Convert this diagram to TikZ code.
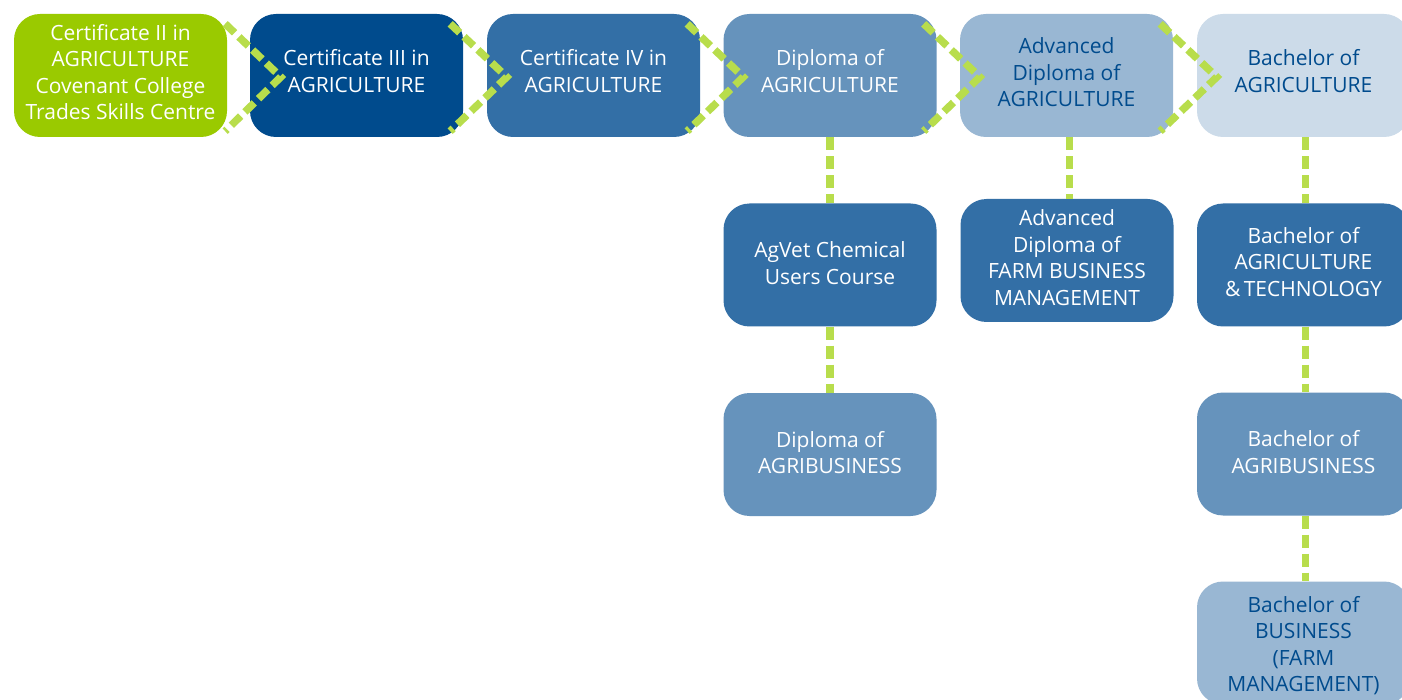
\documentclass[tikz,border=0pt]{standalone}
\usepackage{fontspec}
\setmainfont{Open Sans}
\definecolor{cgreen}{RGB}{154,202,0}
\definecolor{cdark}{RGB}{0,75,141}
\definecolor{cmid}{RGB}{51,111,166}
\definecolor{clight}{RGB}{102,147,188}
\definecolor{cpale}{RGB}{153,183,211}
\definecolor{cpaler}{RGB}{204,219,233}
\definecolor{clime}{RGB}{184,221,76}
\tikzset{
  box/.style={rectangle, rounded corners=26pt, minimum width=213pt, minimum height=123pt,
    inner sep=0pt},
  txt/.style={inner sep=0pt, align=center, text=white,
    font=\fontsize{21pt}{26.5pt}\selectfont},
  darktext/.style={text=cdark},
  link/.style={draw=clime, line width=7.5pt, dash pattern=on 13pt off 6pt},
}
\begin{document}
\begin{tikzpicture}[x=1pt,y=-1pt]
\useasboundingbox[fill=white] (0,0) rectangle (1402,700);
\node[box, fill=cgreen] (n1) at (120.5,75.5) {};
\node[box, fill=cdark] (n2) at (356.5,75.5) {};
\node[box, fill=cmid] (n3) at (593.5,75.5) {};
\node[box, fill=clight] (n4) at (830,75.5) {};
\node[box, fill=cpale] (n5) at (1066.5,75.5) {};
\node[box, fill=cpaler] (n6) at (1303.5,75.5) {};
\node[box, fill=cmid] (a1) at (830,265) {};
\node[box, fill=clight] (a2) at (830,454.5) {};
\node[box, fill=cmid] (f1) at (1067,260.5) {};
\node[box, fill=cmid] (b1) at (1303.5,265) {};
\node[box, fill=clight] (b2) at (1303.5,454) {};
\node[box, fill=cpale] (b3) at (1303.5,643) {};
% texts
\node[txt] (t1) at ([yshift=3.5pt]n1.center) {Certificate II in\\AGRICULTURE\\Covenant College\\Trades Skills Centre};
\node[txt] (t2) at ([yshift=4.5pt]n2.center) {Certificate III in\\AGRICULTURE};
\node[txt] (t3) at ([yshift=4.5pt]n3.center) {Certificate IV in\\AGRICULTURE};
\node[txt] (t4) at ([yshift=4.5pt]n4.center) {Diploma of\\AGRICULTURE};
\node[txt, darktext] (t5) at ([yshift=3pt]n5.center) {Advanced\\Diploma of\\AGRICULTURE};
\node[txt, darktext] (t6) at ([yshift=4.5pt]n6.center) {Bachelor of\\AGRICULTURE};
\node[txt] (ta1) at ([yshift=2pt]a1.center) {AgVet Chemical\\Users Course};
\node[txt] (ta2) at ([yshift=2pt]a2.center) {Diploma of\\AGRIBUSINESS};
\node[txt] (tf1) at ([yshift=3pt]f1.center) {Advanced\\Diploma of\\FARM BUSINESS\\MANAGEMENT};
\node[txt] (tb1) at ([yshift=3pt]b1.center) {Bachelor of\\AGRICULTURE\\\&\,TECHNOLOGY};
\node[txt] (tb2) at ([yshift=2pt]b2.center) {Bachelor of\\AGRIBUSINESS};
\node[txt, darktext] (tb3) at ([yshift=-2.5pt]b3.center) {Bachelor of\\BUSINESS\\(FARM\\MANAGEMENT)};
% chevrons
\draw[link] ([xshift=-2pt,yshift=-10pt]n1.north east) -- ([xshift=31pt,yshift=-1.5pt]n2.west) -- ([xshift=-2pt,yshift=6pt]n1.south east);
\foreach \a/\b in {n2/n3,n3/n4,n4/n5,n5/n6}{
  \draw[link] ([xshift=-13pt,yshift=-10pt]\a.north east) -- ([xshift=20pt,yshift=-1.5pt]\b.west) -- ([xshift=-13pt,yshift=6pt]\a.south east);
}
% vertical links
\draw[link] (n4.south) -- (a1.north);
\draw[link] (a1.south) -- (a2.north);
\draw[link] ([xshift=3pt]n5.south) -- ([xshift=3pt]n5.south |- f1.north);
\draw[link] ([xshift=2pt]n6.south) -- ([xshift=2pt]n6.south |- b1.north);
\draw[link] ([xshift=2pt]b1.south) -- ([xshift=2pt]b1.south |- b2.north);
\draw[link] ([xshift=2pt]b2.south) -- ([xshift=2pt]b2.south |- b3.north);
\end{tikzpicture}
\end{document}
